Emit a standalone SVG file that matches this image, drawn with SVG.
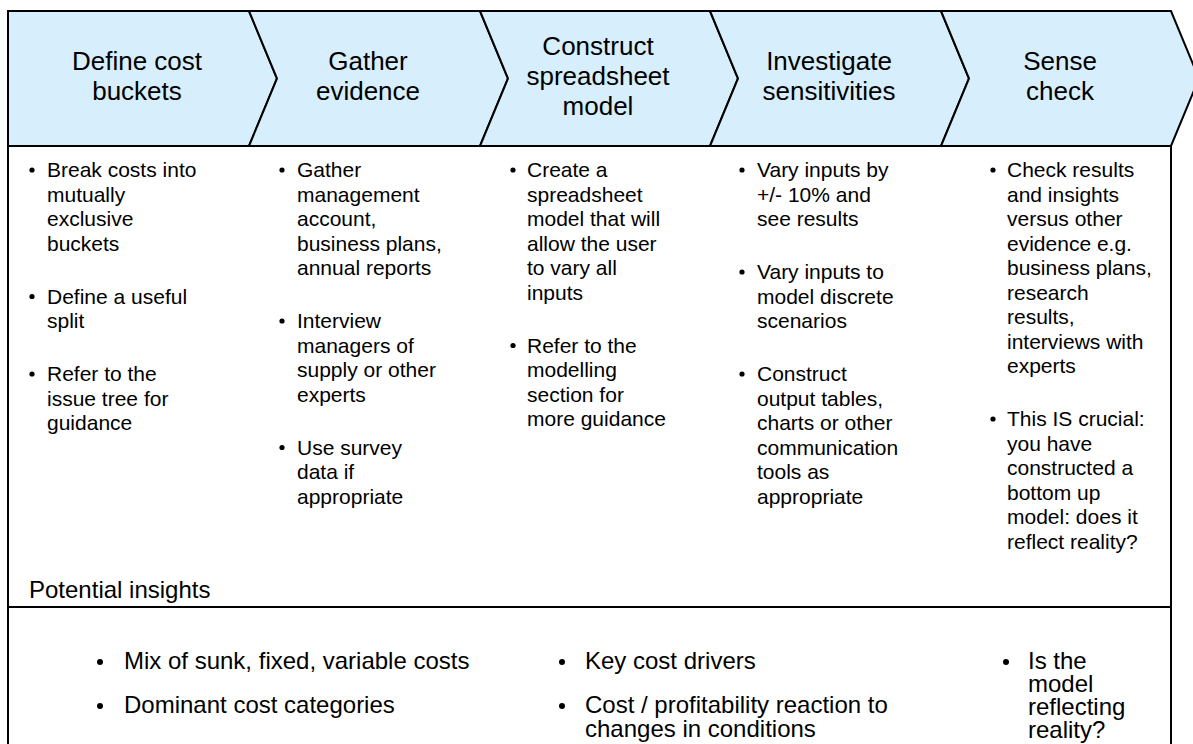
<svg xmlns="http://www.w3.org/2000/svg" width="1193" height="744" viewBox="0 0 1193 744">
<style>
.chev{fill:#D7EEFC;stroke:#000;stroke-width:2;stroke-linejoin:miter}
.frame{fill:none;stroke:#000;stroke-width:2}
.hd{font-family:"Liberation Sans",Arial,sans-serif;font-size:26px;fill:#000;text-anchor:middle}
.bd{font-family:"Liberation Sans",Arial,sans-serif;font-size:21px;fill:#000}
.bt{font-family:"Liberation Sans",Arial,sans-serif;font-size:24px;fill:#000}
.dot{fill:#000}
</style>
<rect width="1193" height="744" fill="#fff"/>
<g id="frame">
<line class="frame" x1="8" y1="146" x2="8" y2="750"/>
<line class="frame" x1="1171" y1="146" x2="1171" y2="750"/>
<line class="frame" x1="8" y1="607" x2="1171" y2="607"/>
</g>
<g id="step1">
<path class="chev" d="M8,11 H249 L277,78.5 L249,146 H8 Z"/>
<text class="hd"><tspan x="137" y="70">Define cost</tspan><tspan x="137" y="100">buckets</tspan></text>
</g>
<g id="step2">
<path class="chev" d="M249,11 H480 L508,78.5 L480,146 H249 L277,78.5 Z"/>
<text class="hd"><tspan x="368" y="70">Gather</tspan><tspan x="368" y="100">evidence</tspan></text>
</g>
<g id="step3">
<path class="chev" d="M480,11 H710 L738,78.5 L710,146 H480 L508,78.5 Z"/>
<text class="hd"><tspan x="598" y="55">Construct</tspan><tspan x="598" y="85">spreadsheet</tspan><tspan x="598" y="115">model</tspan></text>
</g>
<g id="step4">
<path class="chev" d="M710,11 H941 L969,78.5 L941,146 H710 L738,78.5 Z"/>
<text class="hd"><tspan x="829" y="70">Investigate</tspan><tspan x="829" y="100">sensitivities</tspan></text>
</g>
<g id="step5">
<path class="chev" d="M941,11 H1171 L1199,78.5 L1171,146 H941 L969,78.5 Z"/>
<text class="hd"><tspan x="1060" y="70">Sense</tspan><tspan x="1060" y="100">check</tspan></text>
</g>
<g id="col1">
<circle class="dot" cx="32" cy="170" r="2.6"/><circle class="dot" cx="32" cy="296.5" r="2.6"/><circle class="dot" cx="32" cy="374" r="2.6"/>
<text class="bd"><tspan x="47" y="177">Break costs into</tspan><tspan x="47" y="201.5">mutually</tspan><tspan x="47" y="226">exclusive</tspan><tspan x="47" y="250.5">buckets</tspan><tspan x="47" y="303.5">Define a useful</tspan><tspan x="47" y="328">split</tspan><tspan x="47" y="381">Refer to the</tspan><tspan x="47" y="405.5">issue tree for</tspan><tspan x="47" y="430">guidance</tspan></text>
</g>
<g id="col2">
<circle class="dot" cx="282" cy="170" r="2.6"/><circle class="dot" cx="282" cy="321" r="2.6"/><circle class="dot" cx="282" cy="447.5" r="2.6"/>
<text class="bd"><tspan x="297" y="177">Gather</tspan><tspan x="297" y="201.5">management</tspan><tspan x="297" y="226">account,</tspan><tspan x="297" y="250.5">business plans,</tspan><tspan x="297" y="275">annual reports</tspan><tspan x="297" y="328">Interview</tspan><tspan x="297" y="352.5">managers of</tspan><tspan x="297" y="377">supply or other</tspan><tspan x="297" y="401.5">experts</tspan><tspan x="297" y="454.5">Use survey</tspan><tspan x="297" y="479">data if</tspan><tspan x="297" y="503.5">appropriate</tspan></text>
</g>
<g id="col3">
<circle class="dot" cx="513" cy="170" r="2.6"/><circle class="dot" cx="513" cy="345.5" r="2.6"/>
<text class="bd"><tspan x="527" y="177">Create a</tspan><tspan x="527" y="201.5">spreadsheet</tspan><tspan x="527" y="226">model that will</tspan><tspan x="527" y="250.5">allow the user</tspan><tspan x="527" y="275">to vary all</tspan><tspan x="527" y="299.5">inputs</tspan><tspan x="527" y="352.5">Refer to the</tspan><tspan x="527" y="377">modelling</tspan><tspan x="527" y="401.5">section for</tspan><tspan x="527" y="426">more guidance</tspan></text>
</g>
<g id="col4">
<circle class="dot" cx="742" cy="170" r="2.6"/><circle class="dot" cx="742" cy="272" r="2.6"/><circle class="dot" cx="742" cy="374" r="2.6"/>
<text class="bd"><tspan x="757" y="177">Vary inputs by</tspan><tspan x="757" y="201.5">+/- 10% and</tspan><tspan x="757" y="226">see results</tspan><tspan x="757" y="279">Vary inputs to</tspan><tspan x="757" y="303.5">model discrete</tspan><tspan x="757" y="328">scenarios</tspan><tspan x="757" y="381">Construct</tspan><tspan x="757" y="405.5">output tables,</tspan><tspan x="757" y="430">charts or other</tspan><tspan x="757" y="454.5">communication</tspan><tspan x="757" y="479">tools as</tspan><tspan x="757" y="503.5">appropriate</tspan></text>
</g>
<g id="col5">
<circle class="dot" cx="993" cy="170" r="2.6"/><circle class="dot" cx="993" cy="419" r="2.6"/>
<text class="bd"><tspan x="1007" y="177">Check results</tspan><tspan x="1007" y="201.5">and insights</tspan><tspan x="1007" y="226">versus other</tspan><tspan x="1007" y="250.5">evidence e.g.</tspan><tspan x="1007" y="275">business plans,</tspan><tspan x="1007" y="299.5">research</tspan><tspan x="1007" y="324">results,</tspan><tspan x="1007" y="348.5">interviews with</tspan><tspan x="1007" y="373">experts</tspan><tspan x="1007" y="426">This IS crucial:</tspan><tspan x="1007" y="450.5">you have</tspan><tspan x="1007" y="475">constructed a</tspan><tspan x="1007" y="499.5">bottom up</tspan><tspan x="1007" y="524">model: does it</tspan><tspan x="1007" y="548.5">reflect reality?</tspan></text>
</g>
<g id="insights">
<text class="bt" x="29" y="598">Potential insights</text>
<circle class="dot" cx="100" cy="662" r="3"/><circle class="dot" cx="100" cy="706" r="3"/>
<text class="bt"><tspan x="124" y="669">Mix of sunk, fixed, variable costs</tspan><tspan x="124" y="713">Dominant cost categories</tspan></text>
<circle class="dot" cx="562" cy="662" r="3"/><circle class="dot" cx="562" cy="706" r="3"/>
<text class="bt"><tspan x="585" y="669">Key cost drivers</tspan><tspan x="585" y="713">Cost / profitability reaction to</tspan><tspan x="585" y="737">changes in conditions</tspan></text>
<circle class="dot" cx="1006" cy="662" r="3"/>
<text class="bt"><tspan x="1028" y="669">Is the</tspan><tspan x="1028" y="692">model</tspan><tspan x="1028" y="715">reflecting</tspan><tspan x="1028" y="738">reality?</tspan></text>
</g>
</svg>
